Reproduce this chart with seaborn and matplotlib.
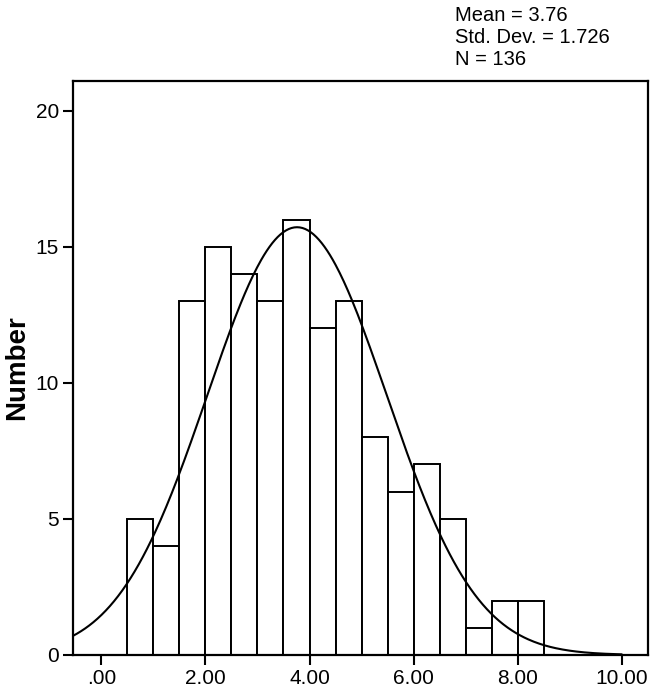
import numpy as np
import pandas as pd
import matplotlib
matplotlib.use("Agg")
import matplotlib.pyplot as plt
import seaborn as sns

# histogram bins (left edges, width 0.5) and counts
bin_left = [0.5, 1.0, 1.5, 2.0, 2.5, 3.0, 3.5, 4.0, 4.5, 5.0, 5.5, 6.0, 6.5, 7.0, 7.5, 8.0]
counts = [5, 4, 13, 15, 14, 13, 16, 12, 13, 8, 6, 7, 5, 1, 2, 2]
bin_width = 0.5

# summary stats shown in the corner
mean_val = 3.76
std_val = 1.726
n_total = 136

x_ticks = [0, 2, 4, 6, 8, 10]
x_tick_labels = [".00", "2.00", "4.00", "6.00", "8.00", "10.00"]
y_ticks = [0, 5, 10, 15, 20]

sns.set_style("white")
plt.rcParams['font.family'] = ['Liberation Sans', 'DejaVu Sans']
plt.rcParams['text.color'] = 'black'
plt.rcParams['axes.labelcolor'] = 'black'
plt.rcParams['xtick.color'] = 'black'
plt.rcParams['ytick.color'] = 'black'

df = pd.DataFrame({'center': np.array(bin_left) + bin_width / 2, 'count': counts})
edges = list(bin_left) + [bin_left[-1] + bin_width]

fig = plt.figure(figsize=(6.61, 6.96), dpi=100)
ax = fig.add_axes([0.110, 0.059, 0.870, 0.825])

sns.histplot(data=df, x='center', weights='count', bins=edges, ax=ax,
             color='white', edgecolor='black', linewidth=1.4, alpha=1)

# fitted normal curve scaled to counts
xs = np.linspace(-0.55, 10.0, 400)
ys = n_total * bin_width * np.exp(-0.5 * ((xs - mean_val) / std_val) ** 2) / (std_val * np.sqrt(2 * np.pi))
sns.lineplot(x=xs, y=ys, ax=ax, color='black', linewidth=1.5)

ax.set_xlim(-0.55, 10.5)
ax.set_ylim(0, 21.1)
ax.set_xticks(x_ticks)
ax.set_xticklabels(x_tick_labels)
ax.set_yticks(y_ticks)
ax.tick_params(axis='both', direction='out', length=7, width=1.5, labelsize=15,
               bottom=True, left=True, pad=3, colors='black')
ax.set_xlabel('')
ax.set_ylabel('Number', fontsize=20, fontweight='bold', labelpad=4, color='black')
for s in ax.spines.values():
    s.set_linewidth(1.6)
    s.set_color('black')

fig.text(0.688, 0.992, f"Mean = {mean_val:.2f}\nStd. Dev. = {std_val:.3f}\nN = {n_total}",
         ha='left', va='top', fontsize=14.5, linespacing=1.2, color='black')

fig.savefig('out.png', dpi=100)
